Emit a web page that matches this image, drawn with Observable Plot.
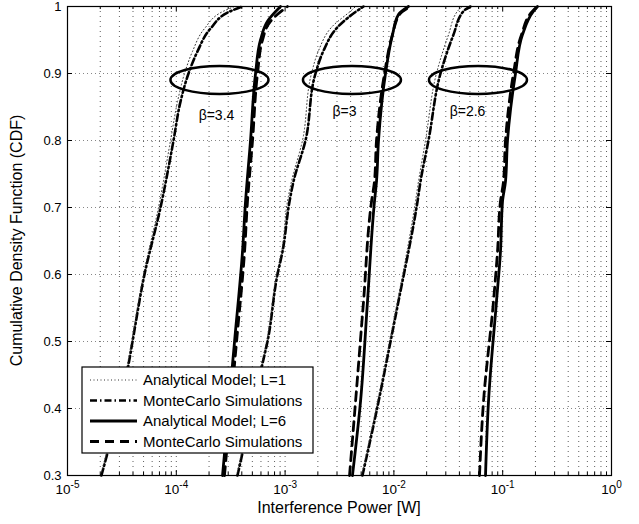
<!DOCTYPE html>
<html><head><meta charset="utf-8">
<script src="https://cdn.jsdelivr.net/npm/d3@7"></script>
<script src="https://cdn.jsdelivr.net/npm/@observablehq/plot@0.6"></script>
<style>
body{margin:0;background:#fff;}
#chart{width:639px;height:524px;}
svg{font-family:"Liberation Sans",Arial,Helvetica,sans-serif;}
</style></head><body><div id="chart"></div>
<script>
// ---- data ----
// beta = 3.4
const lv34L1 = [0.3, 0.466, 0.5, 0.6, 0.7, 0.8, 0.858, 0.9, 0.933, 0.967, 0.993, 1.0];
const mc34L1 = [2.05e-5, 3.64e-5, 3.96e-5, 5.10e-5, 7.16e-5, 9.43e-5, 1.093e-4, 1.295e-4, 1.566e-4, 2.062e-4, 3.15e-4, 4.06e-4];
const an34L1 = [2.01e-5, 3.56e-5, 3.88e-5, 4.99e-5, 6.86e-5, 8.85e-5, 1.026e-4, 1.190e-4, 1.409e-4, 1.816e-4, 2.715e-4, 3.43e-4];
const lv34L6 = [0.3, 0.5, 0.634, 0.709, 0.8, 0.9, 0.95, 0.978, 1.0];
const an34L6 = [2.66e-4, 3.43e-4, 4.06e-4, 4.33e-4, 4.81e-4, 5.35e-4, 5.94e-4, 6.89e-4, 9.07e-4];
const mc34L6 = [2.77e-4, 3.58e-4, 4.24e-4, 4.51e-4, 5.02e-4, 5.58e-4, 6.20e-4, 7.34e-4, 1.052e-3];
// beta = 3
const lv30L1 = [0.3, 0.467, 0.5, 0.6, 0.634, 0.709, 0.739, 0.8, 0.9, 0.934, 0.969, 0.997, 1.0];
const mc30L1 = [3.65e-4, 6.20e-4, 6.89e-4, 8.51e-4, 9.46e-4, 1.098e-3, 1.195e-3, 1.540e-3, 1.903e-3, 2.254e-3, 3.03e-3, 4.93e-3, 5.26e-3];
const an30L1 = [3.58e-4, 6.07e-4, 6.75e-4, 8.34e-4, 9.27e-4, 1.052e-3, 1.145e-3, 1.445e-3, 1.748e-3, 2.028e-3, 2.67e-3, 4.25e-3, 4.44e-3];
const lv30L6 = [0.3, 0.41, 0.56, 0.709, 0.739, 0.8, 0.9, 0.958, 0.988, 1.0];
const an30L6 = [4.16e-3, 4.93e-3, 5.72e-3, 6.63e-3, 6.92e-3, 7.22e-3, 8.37e-3, 9.71e-3, 1.102e-2, 1.362e-2];
const mc30L6 = [3.91e-3, 4.44e-3, 5.26e-3, 6.23e-3, 6.63e-3, 6.92e-3, 8.20e-3, 9.71e-3, 1.126e-2, 1.421e-2];
// beta = 2.6
const lv26L1 = [0.3, 0.41, 0.5, 0.56, 0.709, 0.739, 0.8, 0.9, 0.958, 0.993, 1.0];
const mc26L1 = [5.14e-3, 7.22e-3, 9.31e-3, 1.102e-2, 1.648e-2, 1.756e-2, 2.080e-2, 2.68e-2, 3.53e-2, 4.36e-2, 5.06e-2];
const an26L1 = [5.04e-3, 7.07e-3, 9.11e-3, 1.079e-2, 1.579e-2, 1.683e-2, 1.952e-2, 2.46e-2, 3.18e-2, 3.84e-2, 4.27e-2];
const lv26L6 = [0.3, 0.41, 0.56, 0.634, 0.709, 0.739, 0.8, 0.9, 0.958, 0.993, 1.0];
const an26L6 = [6.95e-2, 7.40e-2, 8.77e-2, 9.54e-2, 9.96e-2, 1.061e-1, 1.107e-1, 1.311e-1, 1.521e-1, 1.919e-1, 2.089e-1];
const mc26L6 = [6.12e-2, 6.66e-2, 8.23e-2, 8.96e-2, 9.54e-2, 1.017e-1, 1.061e-1, 1.257e-1, 1.489e-1, 1.879e-1, 2.089e-1];

// annotations
const betaLabels = ["β=3.4", "β=3", "β=2.6"];
const betaLabelX = [2.34e-4, 3.52e-3, 4.75e-2];
const betaLabelY = [0.837, 0.843, 0.843];
const ellipseX = [2.52e-4, 4.16e-3, 5.99e-2];
const ellipseY = [0.8896, 0.8896, 0.8896];

// axes
const xDecades = [1e-5, 1e-4, 1e-3, 1e-2, 1e-1, 1];
const yTicks = [0.3, 0.4, 0.5, 0.6, 0.7, 0.8, 0.9, 1.0];
const legendLabels = ["Analytical Model; L=1", "MonteCarlo Simulations", "Analytical Model; L=6", "MonteCarlo Simulations"];
const xTitle = "Interference Power [W]";
const yTitle = "Cumulative Density Function (CDF)";

// ---- build table ----
const rows = [];
function add(series, beta, xs, ys) { xs.forEach((x, i) => rows.push({series, beta, x, y: ys[i]})); }
add("anL1", "3.4", an34L1, lv34L1); add("mcL1", "3.4", mc34L1, lv34L1);
add("anL6", "3.4", an34L6, lv34L6); add("mcL6", "3.4", mc34L6, lv34L6);
add("anL1", "3", an30L1, lv30L1); add("mcL1", "3", mc30L1, lv30L1);
add("anL6", "3", an30L6, lv30L6); add("mcL6", "3", mc30L6, lv30L6);
add("anL1", "2.6", an26L1, lv26L1); add("mcL1", "2.6", mc26L1, lv26L1);
add("anL6", "2.6", an26L6, lv26L6); add("mcL6", "2.6", mc26L6, lv26L6);

const minorX = [];
for (let i = 0; i < xDecades.length - 1; i++) for (let m = 2; m <= 9; m++) minorX.push(m * xDecades[i]);
const labels = betaLabels.map((t, i) => ({t, x: betaLabelX[i], y: betaLabelY[i]}));

const W = 639, H = 524, mL = 67, mR = 28, mT = 6, mB = 49;
const fw = W - mL - mR, fh = H - mT - mB;

const styles = {
  mcL1: {stroke: "#000", strokeWidth: 2.6, strokeDasharray: "7,3,1.5,3"},
  anL1: {stroke: "#333", strokeWidth: 1, strokeDasharray: "1,2.5"},
  anL6: {stroke: "#000", strokeWidth: 2.8},
  mcL6: {stroke: "#000", strokeWidth: 2.8, strokeDasharray: "9,6"}
};
const lineMark = s => Plot.line(rows.filter(d => d.series === s), {x: "x", y: "y", z: "beta", curve: "monotone-y", ...styles[s]});

const plot = Plot.plot({
  width: W, height: H,
  marginLeft: mL, marginRight: mR, marginTop: mT, marginBottom: mB,
  style: {fontFamily: '"Liberation Sans", Arial, Helvetica, sans-serif', background: "#fff", color: "#000"},
  x: {type: "log", domain: [1e-5, 1]},
  y: {domain: [0.3, 1]},
  marks: [
    Plot.ruleX([...minorX, ...xDecades.slice(1, -1)], {stroke: "#000", strokeOpacity: 0.8, strokeWidth: 0.8, strokeDasharray: "1,4"}),
    Plot.ruleY(yTicks.slice(1, -1), {stroke: "#000", strokeOpacity: 0.6, strokeWidth: 0.8, strokeDasharray: "1,3"}),
    lineMark("mcL1"), lineMark("anL1"), lineMark("anL6"), lineMark("mcL6"),
    Plot.text(labels, {x: "x", y: "y", text: "t", fontSize: 14, fill: "#000"}),
    Plot.ruleX(xDecades, {stroke: "#000", insetTop: fh - 5}),
    Plot.ruleX(xDecades, {stroke: "#000", insetBottom: fh - 5}),
    Plot.ruleX(minorX, {stroke: "#000", insetTop: fh - 3}),
    Plot.ruleX(minorX, {stroke: "#000", insetBottom: fh - 3}),
    Plot.ruleY(yTicks, {stroke: "#000", insetRight: fw - 5}),
    Plot.ruleY(yTicks, {stroke: "#000", insetLeft: fw - 5}),
    Plot.frame({stroke: "#000", strokeWidth: 1.2}),
    Plot.axisX({ticks: xDecades, tickSize: 0, tickPadding: 9, fontSize: 13.5, label: null, tickFormat: d => "10^" + Math.round(Math.log10(d))}),
    Plot.axisY({ticks: yTicks, tickSize: 0, tickPadding: 6, fontSize: 13, label: null, tickFormat: d => d === 1 ? "1" : d.toFixed(1)})
  ]
});

document.getElementById("chart").appendChild(plot);
const svg = d3.select(plot);

// superscript exponents
svg.selectAll('g[aria-label="x-axis tick label"] text').each(function () {
  const s = this.textContent; const e = s.split("^")[1];
  const t = d3.select(this); t.text("");
  t.append("tspan").text("10");
  t.append("tspan").attr("dy", "-6").attr("font-size", 10).text(e);
});

const sx = plot.scale("x"), sy = plot.scale("y");
// ellipses
ellipseX.forEach((cx, i) => {
  svg.append("ellipse").attr("cx", sx.apply(cx)).attr("cy", sy.apply(ellipseY[i]))
    .attr("rx", 49).attr("ry", 14).attr("fill", "none").attr("stroke", "#000").attr("stroke-width", 2.5);
});

// legend
const lg = svg.append("g");
const lx = 82, ly = 367, lw = 231, lh = 86;
lg.append("rect").attr("x", lx).attr("y", ly).attr("width", lw).attr("height", lh).attr("fill", "#fff").attr("stroke", "#000").attr("stroke-width", 1.2);
const keys = ["anL1", "mcL1", "anL6", "mcL6"];
keys.forEach((k, i) => {
  const yy = ly + 13 + i * 20.5;
  const st = styles[k];
  lg.append("line").attr("x1", lx + 8).attr("x2", lx + 55).attr("y1", yy).attr("y2", yy)
    .attr("stroke", st.stroke).attr("stroke-width", st.strokeWidth).attr("stroke-dasharray", st.strokeDasharray || null);
  lg.append("text").attr("x", lx + 61).attr("y", yy).attr("dy", "0.36em").attr("text-anchor", "start")
    .attr("font-size", 15).attr("fill", "#000").text(legendLabels[i]);
});

// axis titles
svg.append("text").attr("x", mL + fw / 2).attr("y", 513).attr("text-anchor", "middle").attr("font-size", 16).attr("fill", "#000").text(xTitle);
svg.append("text").attr("transform", `translate(22,${mT + fh / 2}) rotate(-90)`).attr("text-anchor", "middle").attr("font-size", 16).attr("fill", "#000").text(yTitle);
</script></body></html>
